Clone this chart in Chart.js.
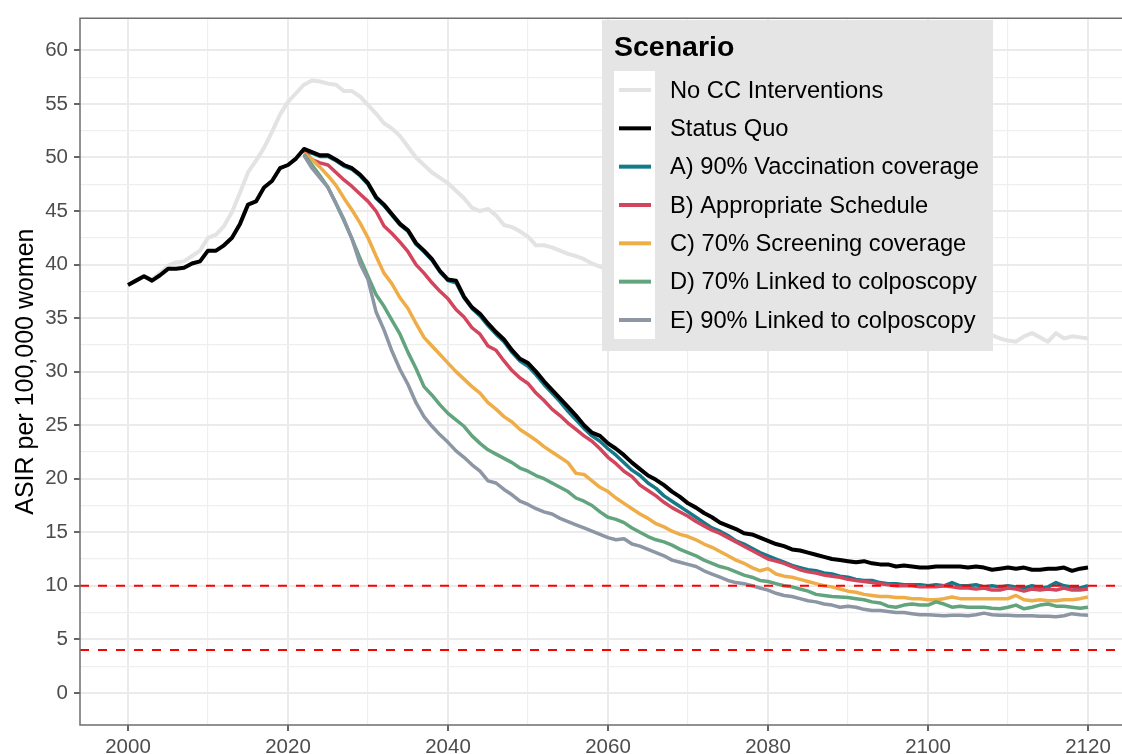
<!DOCTYPE html>
<html>
<head>
<meta charset="utf-8">
<script src="https://cdn.jsdelivr.net/npm/chart.js@4/dist/chart.umd.min.js"></script>
<style>
  html, body { margin: 0; padding: 0; background: #fff; overflow: hidden; }
</style>
</head>
<body>
<canvas id="asir" width="1122" height="754"></canvas>
<script>
// categories / ticks
const firstYear = 2000;       // history series start
const scenarioStart = 2022;   // intervention scenarios start
const xTickLabels = [2000, 2020, 2040, 2060, 2080, 2100, 2120];
const yTickLabels = [0, 5, 10, 15, 20, 25, 30, 35, 40, 45, 50, 55, 60];
const thresholds = [10, 4];

const seriesNames = [
  'No CC Interventions',
  'Status Quo',
  'A) 90% Vaccination coverage',
  'B) Appropriate Schedule',
  'C) 70% Screening coverage',
  'D) 70% Linked to colposcopy',
  'E) 90% Linked to colposcopy'
];

// 2000-2120
const noIntervention = [
  38.1, 38.5, 38.9, 38.6, 39.2, 39.9, 40.2, 40.3, 40.8, 41.3,
  42.5, 42.8, 43.6, 44.9, 46.7, 48.6, 49.7, 50.9, 52.4, 54.0,
  55.2, 56.0, 56.8, 57.2, 57.1, 56.9, 56.8, 56.2, 56.2, 55.7,
  54.9, 54.1, 53.2, 52.7, 52.0, 51.0, 50.0, 49.3, 48.6, 48.1,
  47.6, 46.9, 46.2, 45.3, 45.0, 45.2, 44.6, 43.7, 43.5, 43.1,
  42.6, 41.8, 41.8, 41.6, 41.3, 41.0, 40.8, 40.5, 40.1, 39.8,
  39.5, 39.2, 38.9, 38.7, 38.4, 38.1, 37.9, 37.6, 37.4, 37.2,
  36.9, 36.7, 36.5, 36.4, 36.1, 35.9, 35.8, 35.6, 35.4, 35.3,
  35.2, 35.0, 34.9, 34.8, 34.7, 34.5, 34.5, 34.3, 34.3, 34.1,
  34.1, 34.0, 33.9, 33.9, 33.8, 33.7, 33.7, 33.6, 33.6, 33.5,
  33.5, 33.4, 33.5, 33.4, 33.3, 33.4, 33.3, 33.4, 33.4, 33.1,
  32.9, 32.8, 33.3, 33.6, 33.2, 32.8, 33.6, 33.1, 33.3, 33.2, 33.1
];
const statusQuo = [
  38.1, 38.5, 38.9, 38.5, 39.0, 39.6, 39.6, 39.7, 40.1, 40.3,
  41.3, 41.3, 41.8, 42.5, 43.8, 45.6, 45.9, 47.2, 47.8, 49.0,
  49.3, 49.9, 50.8, 50.5, 50.2, 50.2, 49.8, 49.3, 49.0, 48.4,
  47.6, 46.3, 45.6, 44.7, 43.8, 43.2, 42.0, 41.3, 40.5, 39.4,
  38.6, 38.5, 37.0, 36.0, 35.4, 34.5, 33.7, 33.0, 32.0, 31.2,
  30.8, 30.0, 29.1, 28.3, 27.5, 26.7, 25.9, 25.0, 24.3, 24.0,
  23.3, 22.8, 22.2, 21.5, 20.9, 20.3, 19.9, 19.4, 18.8, 18.3,
  17.7, 17.3, 16.8, 16.4, 15.9, 15.6, 15.3, 14.9, 14.8, 14.5,
  14.2, 13.9, 13.7, 13.4, 13.3, 13.1, 12.9, 12.7, 12.5, 12.4,
  12.3, 12.2, 12.3, 12.1, 12.0, 12.0, 11.8, 11.9, 11.8, 11.7,
  11.7, 11.8, 11.8, 11.8, 11.8, 11.7, 11.8, 11.7, 11.5, 11.6,
  11.7, 11.6, 11.7, 11.5, 11.5, 11.6, 11.6, 11.7, 11.4, 11.6, 11.7
];

// 2022-2120
const scenarioA = [
  50.6, 50.4, 50.1, 50.1, 49.7, 49.2, 48.9, 48.3,
  47.5, 46.2, 45.5, 44.6, 43.7, 43.1, 41.9, 41.2, 40.4, 39.3,
  38.5, 38.3, 36.9, 35.9, 35.2, 34.3, 33.5, 32.8, 31.8, 31.0,
  30.5, 29.7, 28.8, 28.0, 27.2, 26.3, 25.5, 24.7, 24.0, 23.5,
  22.8, 22.2, 21.5, 20.8, 20.3, 19.6, 19.1, 18.4, 17.9, 17.4,
  16.9, 16.4, 15.9, 15.4, 15.1, 14.7, 14.2, 13.9, 13.5, 13.1,
  12.8, 12.5, 12.2, 11.9, 11.7, 11.5, 11.4, 11.2, 11.1, 10.9,
  10.8, 10.6, 10.5, 10.5, 10.3, 10.2, 10.2, 10.1, 10.1, 10.1,
  10.0, 10.1, 10.0, 10.3, 10.0, 10.0, 10.1, 9.9, 10.0, 9.9,
  10.0, 9.9, 9.8, 10.0, 9.8, 9.9, 10.3, 10.0, 9.9, 9.8, 10.0
];
const scenarioB = [
  50.6, 49.8, 49.5, 49.3, 48.6, 47.9, 47.3, 46.6,
  45.9, 45.0, 43.6, 42.9, 42.1, 41.2, 40.0, 39.2, 38.3, 37.5,
  36.8, 35.8, 35.1, 34.1, 33.5, 32.4, 32.0, 31.0, 30.1, 29.4,
  28.9, 28.0, 27.3, 26.5, 25.9, 25.2, 24.6, 24.0, 23.5, 22.8,
  22.0, 21.4, 20.7, 20.2, 19.4, 18.9, 18.4, 17.8, 17.3, 16.9,
  16.5, 16.0, 15.6, 15.2, 14.9, 14.5, 14.1, 13.7, 13.3, 12.9,
  12.5, 12.3, 12.1, 11.8, 11.5, 11.3, 11.2, 11.0, 10.9, 10.8,
  10.6, 10.5, 10.4, 10.3, 10.2, 10.1, 10.0, 10.0, 10.0, 9.9,
  9.9, 9.9, 10.0, 9.9, 9.8, 9.8, 9.7, 9.8, 9.6, 9.6,
  9.8, 9.7, 9.5, 9.7, 9.6, 9.7, 9.6, 9.8, 9.6, 9.6, 9.7
];
const scenarioC = [
  50.4, 49.8, 49.1, 48.3, 47.4, 46.2, 45.1, 43.9,
  42.5, 40.8, 39.2, 38.2, 36.9, 35.9, 34.5, 33.2, 32.4, 31.6,
  30.8, 30.0, 29.3, 28.6, 28.0, 27.1, 26.5, 25.8, 25.3, 24.6,
  24.1, 23.6, 23.0, 22.5, 22.0, 21.5, 20.5, 20.4, 19.8, 19.2,
  18.8, 18.2, 17.7, 17.2, 16.7, 16.3, 15.8, 15.5, 15.1, 14.8,
  14.6, 14.3, 13.9, 13.6, 13.2, 12.8, 12.4, 12.1, 11.7, 11.4,
  11.6, 11.1, 10.9, 10.8, 10.6, 10.4, 10.2, 10.0, 9.9, 9.7,
  9.5, 9.4, 9.2, 9.1, 9.0, 9.0, 8.9, 8.9, 8.8, 8.8,
  8.7, 8.7, 8.8, 8.95, 8.8, 8.8, 8.8, 8.8, 8.8, 8.8,
  8.8, 9.1, 8.7, 8.6, 8.7, 8.6, 8.6, 8.7, 8.7, 8.8, 8.95
];
const scenarioD = [
  50.3, 49.3, 48.3, 47.2, 45.7, 44.1, 42.4, 40.6,
  38.9, 37.2, 36.1, 34.8, 33.5, 31.8, 30.3, 28.6, 27.8, 26.9,
  26.1, 25.5, 24.9, 24.0, 23.3, 22.7, 22.3, 21.9, 21.5, 21.0,
  20.7, 20.3, 20.0, 19.6, 19.2, 18.8, 18.2, 17.9, 17.5, 16.9,
  16.4, 16.2, 15.9, 15.4, 15.0, 14.6, 14.3, 14.1, 13.8, 13.4,
  13.1, 12.8, 12.4, 12.1, 11.8, 11.6, 11.3, 11.0, 10.8, 10.5,
  10.4, 10.2, 10.0, 9.9, 9.7, 9.5, 9.2, 9.1, 9.0, 8.95,
  8.9, 8.8, 8.7, 8.5, 8.4, 8.1, 8.0, 8.2, 8.3, 8.2,
  8.2, 8.5, 8.3, 8.0, 8.1, 8.0, 8.0, 8.0, 7.9, 7.85,
  8.0, 8.2, 7.85, 8.0, 8.2, 8.3, 8.1, 8.1, 8.0, 7.9, 8.0
];
const scenarioE = [
  50.2, 49.0, 48.1, 47.2, 45.7, 44.2, 42.4, 40.1,
  38.6, 35.6, 33.9, 31.9, 30.2, 28.8, 27.1, 25.8, 24.9, 24.1,
  23.4, 22.6, 22.0, 21.3, 20.7, 19.8, 19.6, 19.0, 18.5, 17.9,
  17.6, 17.2, 16.9, 16.7, 16.3, 16.0, 15.7, 15.4, 15.1, 14.8,
  14.5, 14.3, 14.4, 13.9, 13.7, 13.4, 13.1, 12.8, 12.4, 12.2,
  12.0, 11.8, 11.4, 11.1, 10.8, 10.5, 10.3, 10.2, 10.0, 9.8,
  9.6, 9.3, 9.1, 9.0, 8.8, 8.6, 8.5, 8.3, 8.2, 8.0,
  8.1, 8.0, 7.8, 7.7, 7.7, 7.6, 7.5, 7.5, 7.4, 7.3,
  7.3, 7.25, 7.2, 7.25, 7.25, 7.2, 7.3, 7.45, 7.3, 7.25,
  7.25, 7.2, 7.2, 7.2, 7.15, 7.15, 7.1, 7.2, 7.4, 7.3, 7.25
];

const colors = ['#E3E3E3', '#000000', '#137A8A', '#D3455C', '#EEAD46', '#62A47D', '#8C96A4'];
const widths = [4, 4, 3.5, 3.5, 3.5, 3.5, 3.5];
// lower order is painted on top: Status Quo over everything, No CC underneath
const drawOrder = [6, 0, 5, 4, 3, 2, 1];

const FONT = "'Liberation Sans', Arial, sans-serif";

function toPoints(values, start) {
  return values.map((v, i) => ({ x: start + i, y: v }));
}

const seriesValues = [noIntervention, statusQuo, scenarioA, scenarioB, scenarioC, scenarioD, scenarioE];
const seriesStart = [firstYear, firstYear, scenarioStart, scenarioStart, scenarioStart, scenarioStart, scenarioStart];

const datasets = seriesValues.map((vals, i) => ({
  label: seriesNames[i],
  data: toPoints(vals, seriesStart[i]),
  borderColor: colors[i],
  borderWidth: widths[i],
  order: drawOrder[i],
  pointRadius: 0,
  fill: false,
  tension: 0
}));

// major ticks from the label lists, minor ones half-way between
function withMinor(major) {
  const out = [];
  major.forEach((v, i) => {
    out.push({ value: v, minor: false });
    if (i < major.length - 1) out.push({ value: (v + major[i + 1]) / 2, minor: true });
  });
  return out;
}

const gridOpts = {
  color: c => (c.tick && c.tick.minor ? '#EFEFEF' : '#EBEBEB'),
  lineWidth: c => (c.tick && c.tick.minor ? 1.2 : 2),
  tickColor: c => (c.tick && c.tick.minor ? 'rgba(0,0,0,0)' : '#333333'),
  tickWidth: 1.5,
  tickLength: 6,
  drawTicks: true
};

// red dashed reference lines
const thresholdPlugin = {
  id: 'thresholds',
  afterDatasetsDraw(chart) {
    const { ctx, chartArea, scales } = chart;
    ctx.save();
    ctx.strokeStyle = '#FF0000';
    ctx.lineWidth = 2;
    ctx.setLineDash([9, 9]);
    thresholds.forEach(t => {
      const y = scales.y.getPixelForValue(t);
      ctx.beginPath();
      ctx.moveTo(chartArea.left, y);
      ctx.lineTo(chartArea.right, y);
      ctx.stroke();
    });
    ctx.restore();
  }
};

// panel border + y title + legend box
const decorPlugin = {
  id: 'decor',
  afterDraw(chart) {
    const { ctx, chartArea } = chart;
    ctx.save();
    ctx.strokeStyle = '#6E6E6E';
    ctx.lineWidth = 1.5;
    ctx.beginPath();
    ctx.moveTo(chartArea.right + 2, chartArea.top);
    ctx.lineTo(chartArea.left, chartArea.top);
    ctx.lineTo(chartArea.left, chartArea.bottom);
    ctx.lineTo(chartArea.right + 2, chartArea.bottom);
    ctx.stroke();

    // axis title
    ctx.save();
    ctx.translate(26, (chartArea.top + chartArea.bottom) / 2);
    ctx.rotate(-Math.PI / 2);
    ctx.fillStyle = '#000';
    ctx.font = '25px ' + FONT;
    ctx.textAlign = 'center';
    ctx.textBaseline = 'middle';
    ctx.fillText('ASIR per 100,000 women', 0, 0);
    ctx.restore();

    // legend
    const lx = 602, ly = 20, lw = 391, lh = 331;
    ctx.fillStyle = '#E5E5E5';
    ctx.fillRect(lx, ly, lw, lh);
    ctx.fillStyle = '#000';
    ctx.font = 'bold 28.5px ' + FONT;
    ctx.textAlign = 'left';
    ctx.textBaseline = 'alphabetic';
    ctx.fillText('Scenario', 614, 56);
    ctx.fillStyle = '#FFFFFF';
    ctx.fillRect(614, 71, 41, 268);
    ctx.font = '23.7px ' + FONT;
    ctx.textBaseline = 'middle';
    seriesNames.forEach((name, i) => {
      const y = 90 + i * 38.33;
      ctx.strokeStyle = colors[i];
      ctx.lineWidth = 4;
      ctx.beginPath();
      ctx.moveTo(619, y);
      ctx.lineTo(651, y);
      ctx.stroke();
      ctx.fillStyle = '#000';
      ctx.fillText(name, 670, y + 1);
    });
    ctx.restore();
  }
};

new Chart(document.getElementById('asir'), {
  type: 'line',
  data: { datasets },
  plugins: [thresholdPlugin, decorPlugin],
  options: {
    responsive: false,
    animation: false,
    layout: { padding: { top: 15, left: 0, right: 0, bottom: 0 } },
    plugins: { legend: { display: false }, tooltip: { enabled: false } },
    elements: { line: { borderCapStyle: 'butt', borderJoinStyle: 'round' } },
    scales: {
      x: {
        type: 'linear',
        min: 1994,
        max: 2124.25,
        afterBuildTicks: s => { s.ticks = withMinor(xTickLabels); },
        afterFit: s => { s.height = 29; },
        grid: gridOpts,
        border: { display: false },
        ticks: {
          autoSkip: false,
          maxRotation: 0,
          padding: 4,
          color: '#4D4D4D',
          font: { family: FONT, size: 20.5 },
          callback: (v, i, t) => (t[i].minor ? '' : String(v))
        }
      },
      y: {
        type: 'linear',
        min: -3,
        max: 63,
        afterBuildTicks: s => { s.ticks = withMinor(yTickLabels); },
        afterFit: s => { s.width = 80; },
        grid: gridOpts,
        border: { display: false },
        ticks: {
          autoSkip: false,
          padding: 6,
          color: '#4D4D4D',
          font: { family: FONT, size: 20.5 },
          callback: (v, i, t) => (t[i].minor ? '' : String(v))
        }
      }
    }
  }
});
</script>
</body>
</html>
